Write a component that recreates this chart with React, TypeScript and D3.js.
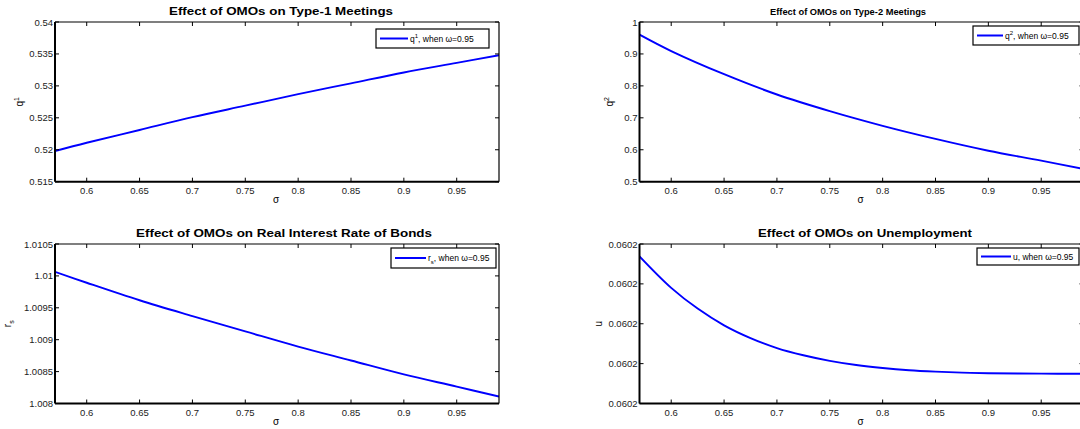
import { useRef, useEffect } from 'react';
import * as d3 from 'd3';

// sigma grid
const sigma = [0.57, 0.6, 0.65, 0.7, 0.75, 0.8, 0.85, 0.9, 0.95, 0.99];
const q1 = [0.5198, 0.5211, 0.5231, 0.5251, 0.5269, 0.5287, 0.5304, 0.5321, 0.5336, 0.5348];
const q2 = [0.9604, 0.909, 0.8365, 0.773, 0.721, 0.675, 0.634, 0.597, 0.566, 0.54];
const rs = [1.010064, 1.009893, 1.009618, 1.00937, 1.00913, 1.008892, 1.008674, 1.008456, 1.008265, 1.008109];

const uSigma = [0.57, 0.6, 0.625, 0.65, 0.675, 0.7, 0.725, 0.75, 0.775, 0.8, 0.825, 0.85, 0.875, 0.9, 0.95, 0.99];
const u = [
  0.06020369, 0.0602029, 0.06020238, 0.06020196, 0.06020164, 0.06020139,
  0.06020121, 0.06020107, 0.060200965, 0.06020089, 0.060200835, 0.0602008,
  0.060200775, 0.06020076, 0.060200748, 0.060200747,
];

const xTicks = [0.6, 0.65, 0.7, 0.75, 0.8, 0.85, 0.9, 0.95];
const xTickLabels = ['0.6', '0.65', '0.7', '0.75', '0.8', '0.85', '0.9', '0.95'];

const q1Ticks = [0.515, 0.52, 0.525, 0.53, 0.535, 0.54];
const q1Labels = ['0.515', '0.52', '0.525', '0.53', '0.535', '0.54'];
const q2Ticks = [0.5, 0.6, 0.7, 0.8, 0.9, 1];
const q2Labels = ['0.5', '0.6', '0.7', '0.8', '0.9', '1'];
const rsTicks = [1.008, 1.0085, 1.009, 1.0095, 1.01, 1.0105];
const rsLabels = ['1.008', '1.0085', '1.009', '1.0095', '1.01', '1.0105'];
const uTicks = [0.0602, 0.060201, 0.060202, 0.060203, 0.060204];
const uLabels = ['0.0602', '0.0602', '0.0602', '0.0602', '0.0602'];

const FONT = 'Liberation Sans, Arial, Helvetica, sans-serif';

function drawPanel(svg, p) {
  const g = svg.append('g');
  const x = d3.scaleLinear().domain([0.57, 0.99]).range([p.x0, p.x1]);
  const y = d3.scaleLinear().domain(p.yDomain).range([p.y1, p.y0]);

  // clip so the line doesn't spill out of the box
  const clipId = 'clip-' + p.id;
  g.append('clipPath')
    .attr('id', clipId)
    .append('rect')
    .attr('x', p.x0)
    .attr('y', p.y0)
    .attr('width', p.x1 - p.x0)
    .attr('height', p.y1 - p.y0);

  const line = d3
    .line()
    .x((d) => x(d[0]))
    .y((d) => y(d[1]))
    .curve(d3.curveCatmullRom.alpha(0.5));

  g.append('path')
    .datum(p.xs.map((s, i) => [s, p.ys[i]]))
    .attr('d', line)
    .attr('fill', 'none')
    .attr('stroke', '#0000ff')
    .attr('stroke-width', 1.9)
    .attr('clip-path', `url(#${clipId})`);

  // box
  g.append('line').attr('x1', p.x0).attr('x2', p.x1).attr('y1', p.y0).attr('y2', p.y0)
    .attr('stroke', '#000').attr('stroke-width', 1.2);
  g.append('line').attr('x1', p.x1).attr('x2', p.x1).attr('y1', p.y0).attr('y2', p.y1)
    .attr('stroke', '#000').attr('stroke-width', 1.2);
  g.append('line').attr('x1', p.x0).attr('x2', p.x1).attr('y1', p.y1).attr('y2', p.y1)
    .attr('stroke', '#000').attr('stroke-width', 2);
  g.append('line').attr('x1', p.x0).attr('x2', p.x0).attr('y1', p.y0).attr('y2', p.y1)
    .attr('stroke', '#000').attr('stroke-width', 2);

  // x ticks, inward top & bottom
  xTicks.forEach((t, i) => {
    const xx = x(t);
    g.append('line').attr('x1', xx).attr('x2', xx).attr('y1', p.y1).attr('y2', p.y1 - 4)
      .attr('stroke', '#000');
    g.append('line').attr('x1', xx).attr('x2', xx).attr('y1', p.y0).attr('y2', p.y0 + 4)
      .attr('stroke', '#000');
    g.append('text').attr('x', xx).attr('y', p.y1 + 12).attr('text-anchor', 'middle')
      .attr('font-size', 9.5).attr('font-family', FONT).attr('fill', '#222')
      .text(xTickLabels[i]);
  });

  // y ticks, inward left & right
  p.yTicks.forEach((t, i) => {
    const yy = y(t);
    g.append('line').attr('x1', p.x0).attr('x2', p.x0 + 4).attr('y1', yy).attr('y2', yy)
      .attr('stroke', '#000');
    g.append('line').attr('x1', p.x1).attr('x2', p.x1 - 4).attr('y1', yy).attr('y2', yy)
      .attr('stroke', '#000');
    g.append('text').attr('x', p.x0 - 2).attr('y', yy + 3.5).attr('text-anchor', 'end')
      .attr('font-size', 9.5).attr('font-family', FONT).attr('fill', '#222')
      .text(p.yLabels[i]);
  });

  // title
  g.append('text')
    .attr('x', p.titleX)
    .attr('y', p.titleY)
    .attr('text-anchor', 'middle')
    .attr('font-size', p.titleSize)
    .attr('font-weight', 'bold')
    .attr('font-family', FONT)
    .attr('textLength', p.titleLen)
    .attr('lengthAdjust', 'spacingAndGlyphs')
    .text(p.title);

  // x label
  g.append('text')
    .attr('x', (p.x0 + p.x1) / 2 - 1)
    .attr('y', p.y1 + 21.5)
    .attr('text-anchor', 'middle')
    .attr('font-size', 10)
    .attr('font-family', FONT)
    .text('σ');

  // y label (rotated)
  const yl = g.append('text')
    .attr('transform', `translate(${p.yLabelX},${(p.y0 + p.y1) / 2}) rotate(-90)`)
    .attr('text-anchor', 'middle')
    .attr('font-size', 10)
    .attr('font-family', FONT);
  yl.append('tspan').text(p.yName);
  if (p.ySup) yl.append('tspan').attr('dy', -4).attr('font-size', 7).text(p.ySup);
  if (p.ySub) yl.append('tspan').attr('dy', 3).attr('font-size', 7).text(p.ySub);

  // legend
  const L = p.legend;
  g.append('rect').attr('x', L.x).attr('y', L.y).attr('width', L.w).attr('height', L.h)
    .attr('fill', '#fff').attr('stroke', '#000').attr('stroke-width', 1.2);
  const ly = L.y + L.h / 2;
  g.append('line').attr('x1', L.x + 4).attr('x2', L.x + 4 + L.line).attr('y1', ly).attr('y2', ly)
    .attr('stroke', '#0000ff').attr('stroke-width', 2);
  const lt = g.append('text')
    .attr('x', L.x + 6 + L.line)
    .attr('y', ly + 3)
    .attr('font-size', 8.5)
    .attr('font-family', FONT);
  lt.append('tspan').text(p.yName);
  if (p.ySup) lt.append('tspan').attr('dy', -4).attr('font-size', 6).text(p.ySup);
  if (p.ySub) lt.append('tspan').attr('dy', 3).attr('font-size', 6).text(p.ySub);
  lt.append('tspan').attr('dy', p.ySup ? 4 : p.ySub ? -3 : 0).text(', when ω=0.95');
}

export default function App() {
  const svgRef = useRef(null);

  useEffect(() => {
    const svg = d3.select(svgRef.current);
    svg.selectAll('*').remove();

    const L = { x0: 55, x1: 499 };
    const R = { x0: 639.5, x1: 1083.5 };
    const T = { y0: 22, y1: 181.7 };
    const B = { y0: 244, y1: 403.5 };

    drawPanel(svg, {
      id: 'q1', ...L, ...T, xs: sigma, ys: q1,
      yDomain: [0.515, 0.54], yTicks: q1Ticks, yLabels: q1Labels,
      title: 'Effect of OMOs on Type-1 Meetings', titleX: 281, titleY: 14.5, titleSize: 11.5, titleLen: 224,
      yName: 'q', ySup: '1', yLabelX: 23,
      legend: { x: 376, y: 29, w: 113, h: 19, line: 28 },
    });
    drawPanel(svg, {
      id: 'q2', ...R, ...T, xs: sigma, ys: q2,
      yDomain: [0.5, 1], yTicks: q2Ticks, yLabels: q2Labels,
      title: 'Effect of OMOs on Type-2 Meetings', titleX: 848, titleY: 15, titleSize: 9.5, titleLen: 156,
      yName: 'q', ySup: '2', yLabelX: 613,
      legend: { x: 973, y: 26, w: 106, h: 19, line: 26 },
    });
    drawPanel(svg, {
      id: 'rs', ...L, ...B, xs: sigma, ys: rs,
      yDomain: [1.008, 1.0105], yTicks: rsTicks, yLabels: rsLabels,
      title: 'Effect of OMOs on Real Interest Rate of Bonds', titleX: 284, titleY: 236.5, titleSize: 11.5, titleLen: 296,
      yName: 'r', ySub: 's', yLabelX: 11,
      legend: { x: 391, y: 248, w: 105, h: 20, line: 31 },
    });
    drawPanel(svg, {
      id: 'u', ...R, ...B, xs: uSigma, ys: u,
      yDomain: [0.0602, 0.060204], yTicks: uTicks, yLabels: uLabels,
      title: 'Effect of OMOs on Unemployment', titleX: 865, titleY: 237, titleSize: 11.5, titleLen: 214,
      yName: 'u', yLabelX: 602,
      legend: { x: 977, y: 248, w: 102, h: 17, line: 30 },
    });
  }, []);

  return (
    <svg
      ref={svgRef}
      width={1080}
      height={429}
      style={{ position: 'absolute', left: 0, top: 0, background: '#fff' }}
    />
  );
}
